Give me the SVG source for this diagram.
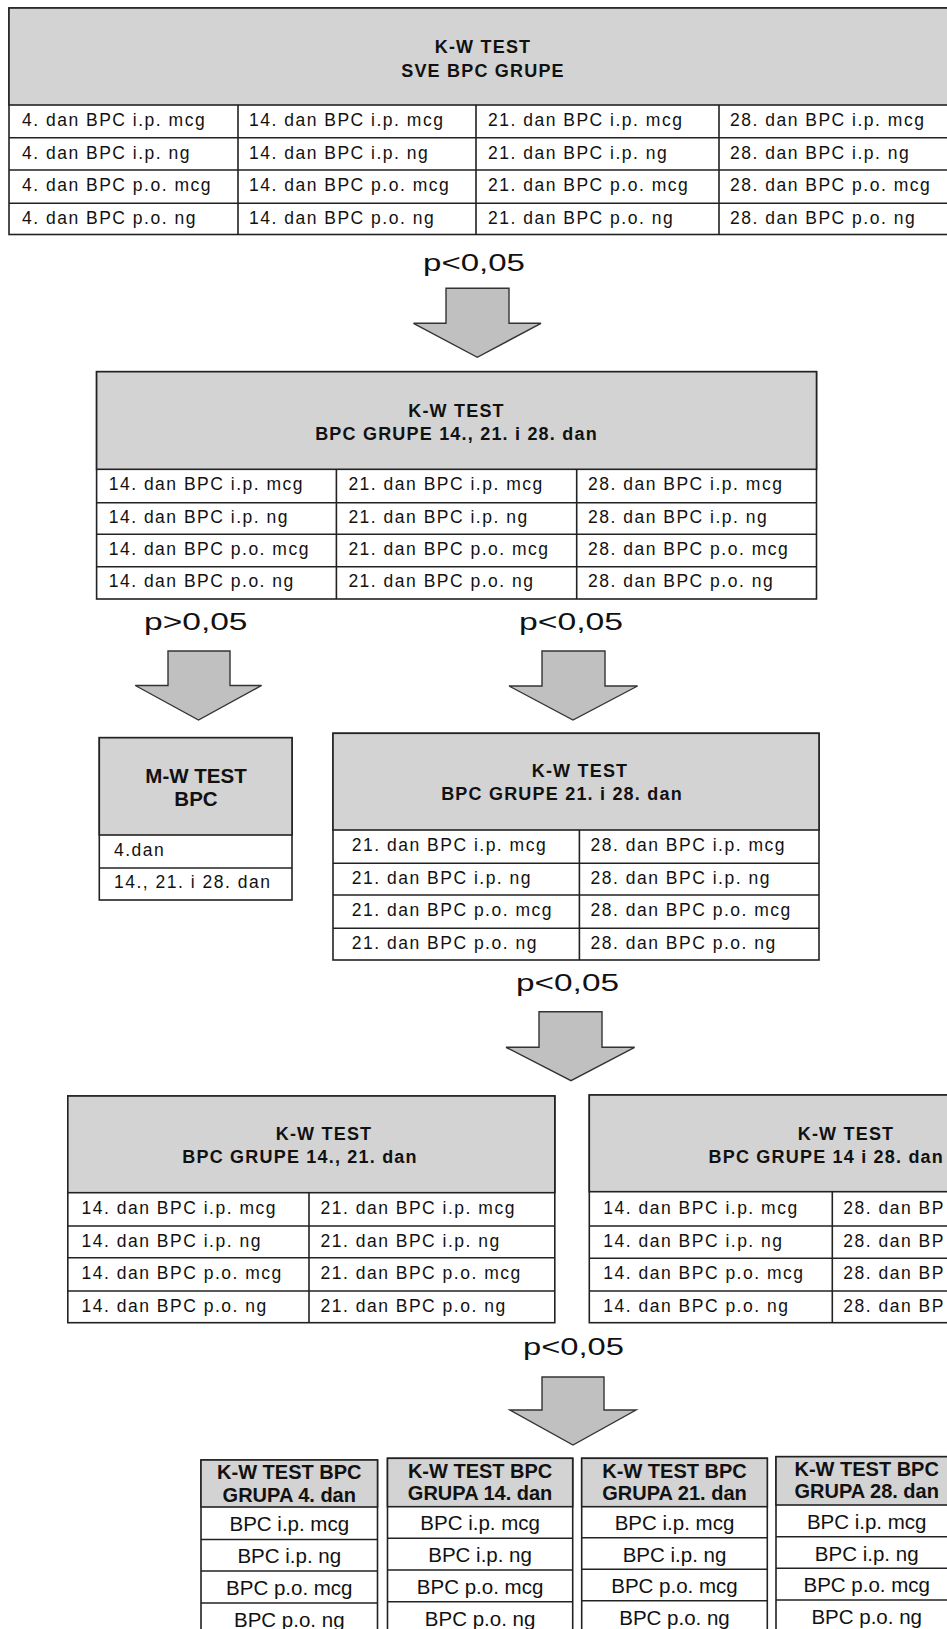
<svg xmlns="http://www.w3.org/2000/svg" width="947" height="1629" viewBox="0 0 947 1629">
<style>
text{font-family:"Liberation Sans",Arial,sans-serif;fill:#111}
.frame{fill:#fff;stroke:#222;stroke-width:1.6}
.head{fill:#d3d3d3;stroke:#222;stroke-width:1.6}
.ln{stroke:#222;stroke-width:1.6;fill:none}
.cell{font-size:17.5px;letter-spacing:1.5px}
.title{font-size:18px;font-weight:bold;letter-spacing:1.2px;text-anchor:middle}
.mw{font-size:20.5px;font-weight:bold;text-anchor:middle}
.btitle{font-size:20px;font-weight:bold;text-anchor:middle}
.bcell{font-size:20.5px;text-anchor:middle}
.arrow{fill:#c0c0c0;stroke:#333;stroke-width:1.4;stroke-linejoin:miter}
.plabel{font-size:24px}
</style>
<rect width="947" height="1629" fill="#fff"/>

<g id="box-sve">
<rect class="frame" x="9" y="8" width="951" height="226.5"/>
<rect class="head" x="9" y="8" width="951" height="97"/>
<path class="ln" d="M9 137.7H960M9 170H960M9 203.3H960M238 105V234.5M476 105V234.5M719 105V234.5"/>
<text class="title" x="483" y="53.3">K-W TEST</text>
<text class="title" x="483" y="76.7">SVE BPC GRUPE</text>
<text class="cell" x="22" y="126">4. dan BPC i.p. mcg</text>
<text class="cell" x="22" y="158.7">4. dan BPC i.p. ng</text>
<text class="cell" x="22" y="191">4. dan BPC p.o. mcg</text>
<text class="cell" x="22" y="224.3">4. dan BPC p.o. ng</text>
<text class="cell" x="249" y="126">14. dan BPC i.p. mcg</text>
<text class="cell" x="249" y="158.7">14. dan BPC i.p. ng</text>
<text class="cell" x="249" y="191">14. dan BPC p.o. mcg</text>
<text class="cell" x="249" y="224.3">14. dan BPC p.o. ng</text>
<text class="cell" x="488" y="126">21. dan BPC i.p. mcg</text>
<text class="cell" x="488" y="158.7">21. dan BPC i.p. ng</text>
<text class="cell" x="488" y="191">21. dan BPC p.o. mcg</text>
<text class="cell" x="488" y="224.3">21. dan BPC p.o. ng</text>
<text class="cell" x="730" y="126">28. dan BPC i.p. mcg</text>
<text class="cell" x="730" y="158.7">28. dan BPC i.p. ng</text>
<text class="cell" x="730" y="191">28. dan BPC p.o. mcg</text>
<text class="cell" x="730" y="224.3">28. dan BPC p.o. ng</text>
</g>

<g id="box-14-21-28">
<rect class="frame" x="96.6" y="371.7" width="719.9" height="227.3"/>
<rect class="head" x="96.6" y="371.7" width="719.9" height="97.6"/>
<path class="ln" d="M96.6 502.7H816.5M96.6 534.3H816.5M96.6 566.7H816.5M336.4 469.3V599M576.7 469.3V599"/>
<text class="title" x="456.5" y="416.7">K-W TEST</text>
<text class="title" x="456.5" y="440">BPC GRUPE  14., 21. i 28. dan</text>
<text class="cell" x="108.7" y="490.3">14. dan BPC i.p. mcg</text>
<text class="cell" x="108.7" y="523">14. dan BPC i.p. ng</text>
<text class="cell" x="108.7" y="554.8">14. dan BPC p.o. mcg</text>
<text class="cell" x="108.7" y="587">14. dan BPC p.o. ng</text>
<text class="cell" x="348.4" y="490.3">21. dan BPC i.p. mcg</text>
<text class="cell" x="348.4" y="523">21. dan BPC i.p. ng</text>
<text class="cell" x="348.4" y="554.8">21. dan BPC p.o. mcg</text>
<text class="cell" x="348.4" y="587">21. dan BPC p.o. ng</text>
<text class="cell" x="588" y="490.3">28. dan BPC i.p. mcg</text>
<text class="cell" x="588" y="523">28. dan BPC i.p. ng</text>
<text class="cell" x="588" y="554.8">28. dan BPC p.o. mcg</text>
<text class="cell" x="588" y="587">28. dan BPC p.o. ng</text>
</g>

<g id="box-mw">
<rect class="frame" x="99.3" y="737.7" width="192.7" height="162.3"/>
<rect class="head" x="99.3" y="737.7" width="192.7" height="97.3"/>
<path class="ln" d="M99.3 868H292"/>
<text class="mw" x="196" y="783">M-W TEST</text>
<text class="mw" x="196" y="806">BPC</text>
<text class="cell" x="114" y="855.5">4.dan</text>
<text class="cell" x="114" y="888">14., 21. i 28. dan</text>
</g>

<g id="box-21-28">
<rect class="frame" x="333" y="733.3" width="486" height="226.7"/>
<rect class="head" x="333" y="733.3" width="486" height="96.7"/>
<path class="ln" d="M333 863.3H819M333 895H819M333 928.3H819M579.4 830V960"/>
<text class="title" x="580" y="776.7">K-W TEST</text>
<text class="title" x="562" y="800">BPC GRUPE  21. i 28. dan</text>
<text class="cell" x="351.8" y="851">21. dan BPC i.p. mcg</text>
<text class="cell" x="351.8" y="884.3">21. dan BPC i.p. ng</text>
<text class="cell" x="351.8" y="916">21. dan BPC p.o. mcg</text>
<text class="cell" x="351.8" y="949.3">21. dan BPC p.o. ng</text>
<text class="cell" x="590.6" y="851">28. dan BPC i.p. mcg</text>
<text class="cell" x="590.6" y="884.3">28. dan BPC i.p. ng</text>
<text class="cell" x="590.6" y="916">28. dan BPC p.o. mcg</text>
<text class="cell" x="590.6" y="949.3">28. dan BPC p.o. ng</text>
</g>

<g id="box-14-21">
<rect class="frame" x="67.8" y="1096" width="487" height="226.7"/>
<rect class="head" x="67.8" y="1096" width="487" height="96.7"/>
<path class="ln" d="M67.8 1226H554.8M67.8 1257.7H554.8M67.8 1291H554.8M309 1192.7V1322.7"/>
<text class="title" x="324" y="1140">K-W TEST</text>
<text class="title" x="300" y="1163.3">BPC GRUPE  14., 21. dan</text>
<text class="cell" x="81.6" y="1213.7">14. dan BPC i.p. mcg</text>
<text class="cell" x="81.6" y="1247">14. dan BPC i.p. ng</text>
<text class="cell" x="81.6" y="1278.7">14. dan BPC p.o. mcg</text>
<text class="cell" x="81.6" y="1312">14. dan BPC p.o. ng</text>
<text class="cell" x="320.5" y="1213.7">21. dan BPC i.p. mcg</text>
<text class="cell" x="320.5" y="1247">21. dan BPC i.p. ng</text>
<text class="cell" x="320.5" y="1278.7">21. dan BPC p.o. mcg</text>
<text class="cell" x="320.5" y="1312">21. dan BPC p.o. ng</text>
</g>

<g id="box-14-28">
<rect class="frame" x="589.3" y="1095" width="489" height="227.7"/>
<rect class="head" x="589.3" y="1095" width="489" height="96.7"/>
<path class="ln" d="M589.3 1226H1078.3M589.3 1258.3H1078.3M589.3 1291H1078.3M832.3 1191.7V1322.7"/>
<text class="title" x="846" y="1140">K-W TEST</text>
<text class="title" x="944" y="1163.3" style="text-anchor:end">BPC GRUPE  14 i 28. dan</text>
<text class="cell" x="603.3" y="1213.7">14. dan BPC i.p. mcg</text>
<text class="cell" x="603.3" y="1247">14. dan BPC i.p. ng</text>
<text class="cell" x="603.3" y="1279.3">14. dan BPC p.o. mcg</text>
<text class="cell" x="603.3" y="1312">14. dan BPC p.o. ng</text>
<text class="cell" x="843.3" y="1213.7">28. dan BP</text>
<text class="cell" x="843.3" y="1247">28. dan BP</text>
<text class="cell" x="843.3" y="1279.3">28. dan BP</text>
<text class="cell" x="843.3" y="1312">28. dan BP</text>
</g>

<g id="box-grupa-4">
<rect class="frame" x="201" y="1460" width="176.5" height="180"/>
<rect class="head" x="201" y="1460" width="176.5" height="47"/>
<path class="ln" d="M201 1539.5H377.5M201 1571H377.5M201 1603H377.5"/>
<text class="btitle" x="289.3" y="1479.3">K-W TEST BPC</text>
<text class="btitle" x="289.3" y="1501.7">GRUPA 4. dan</text>
<text class="bcell" x="289.3" y="1531">BPC i.p. mcg</text>
<text class="bcell" x="289.3" y="1563">BPC i.p. ng</text>
<text class="bcell" x="289.3" y="1595">BPC p.o. mcg</text>
<text class="bcell" x="289.3" y="1627">BPC p.o. ng</text>
</g>

<g id="box-grupa-14">
<rect class="frame" x="387.5" y="1458.3" width="185.2" height="180"/>
<rect class="head" x="387.5" y="1458.3" width="185.2" height="48.4"/>
<path class="ln" d="M387.5 1538.3H572.7M387.5 1570H572.7M387.5 1601.7H572.7"/>
<text class="btitle" x="480.1" y="1477.6">K-W TEST BPC</text>
<text class="btitle" x="480.1" y="1500">GRUPA 14. dan</text>
<text class="bcell" x="480.1" y="1530">BPC i.p. mcg</text>
<text class="bcell" x="480.1" y="1562">BPC i.p. ng</text>
<text class="bcell" x="480.1" y="1594">BPC p.o. mcg</text>
<text class="bcell" x="480.1" y="1626">BPC p.o. ng</text>
</g>

<g id="box-grupa-21">
<rect class="frame" x="581.7" y="1458.3" width="185.6" height="180"/>
<rect class="head" x="581.7" y="1458.3" width="185.6" height="48.4"/>
<path class="ln" d="M581.7 1537.7H767.3M581.7 1569.3H767.3M581.7 1600.7H767.3"/>
<text class="btitle" x="674.5" y="1477.6">K-W TEST BPC</text>
<text class="btitle" x="674.5" y="1500">GRUPA 21. dan</text>
<text class="bcell" x="674.5" y="1529.5">BPC i.p. mcg</text>
<text class="bcell" x="674.5" y="1561.5">BPC i.p. ng</text>
<text class="bcell" x="674.5" y="1593">BPC p.o. mcg</text>
<text class="bcell" x="674.5" y="1625">BPC p.o. ng</text>
</g>

<g id="box-grupa-28">
<rect class="frame" x="776" y="1456.7" width="186" height="180"/>
<rect class="head" x="776" y="1456.7" width="186" height="48.3"/>
<path class="ln" d="M776 1536.7H962M776 1568.3H962M776 1600H962"/>
<text class="btitle" x="866.7" y="1476">K-W TEST BPC</text>
<text class="btitle" x="866.7" y="1498.4">GRUPA 28. dan</text>
<text class="bcell" x="866.7" y="1528.5">BPC i.p. mcg</text>
<text class="bcell" x="866.7" y="1560.5">BPC i.p. ng</text>
<text class="bcell" x="866.7" y="1592">BPC p.o. mcg</text>
<text class="bcell" x="866.7" y="1624">BPC p.o. ng</text>
</g>

<g id="connectors">
<text class="plabel" x="423" y="271" textLength="102" lengthAdjust="spacingAndGlyphs">p&lt;0,05</text>
<path class="arrow" d="M446 288.3H509V323.3H541L477.3 357.3L413.5 323.3H446Z"/>
<text class="plabel" x="144" y="630" textLength="103.5" lengthAdjust="spacingAndGlyphs">p&gt;0,05</text>
<path class="arrow" d="M168 651H230V685.5H261.6L198.5 720L135.3 685.5H168Z"/>
<text class="plabel" x="519" y="630" textLength="104" lengthAdjust="spacingAndGlyphs">p&lt;0,05</text>
<path class="arrow" d="M542 651H605V686H637.6L573 720L509 686H542Z"/>
<text class="plabel" x="516" y="991" textLength="103" lengthAdjust="spacingAndGlyphs">p&lt;0,05</text>
<path class="arrow" d="M539 1011.7H602V1047.3H634.6L571 1080.7L506 1047.3H539Z"/>
<text class="plabel" x="523" y="1355" textLength="101" lengthAdjust="spacingAndGlyphs">p&lt;0,05</text>
<path class="arrow" d="M542 1377H604V1410H636L573 1445L510 1410H542Z"/>
</g>
</svg>
